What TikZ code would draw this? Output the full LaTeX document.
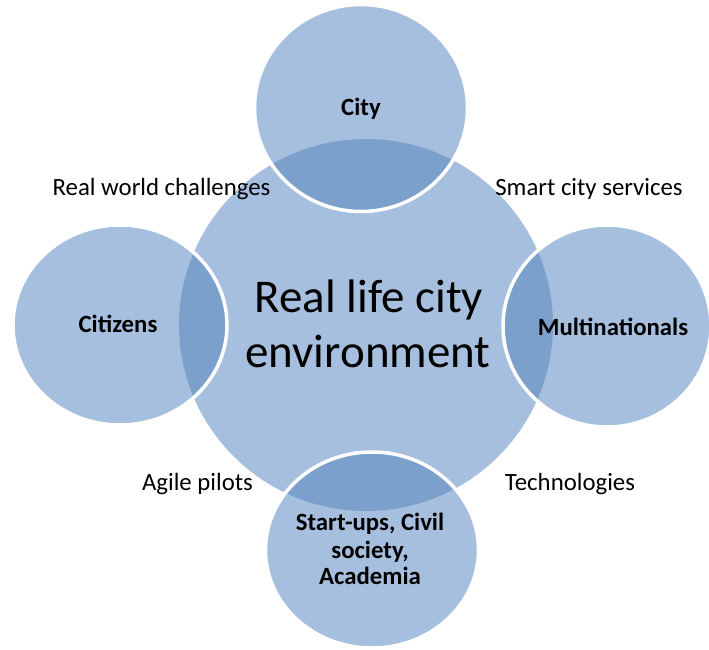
\documentclass[tikz,border=0pt]{standalone}
\usepackage{fontspec}
\setmainfont{Carlito}
\definecolor{lightfill}{RGB}{167,191,222}
\definecolor{darkfill}{RGB}{123,160,204}
\begin{document}
\begin{tikzpicture}[x=1pt,y=-1pt,
  lbl/.style={font=\fontsize{24.8}{29}\selectfont, text=black, inner sep=0pt, anchor=base},
  blbl/.style={font=\bfseries\fontsize{24.8}{28}\selectfont, text=black, inner sep=0pt, anchor=base},
  biglbl/.style={font=\fontsize{47}{55}\selectfont, text=black, inner sep=0pt, anchor=base},
  satborder/.style={draw=white, line width=3.5pt}]
\useasboundingbox (0,0) rectangle (709,649);
\clip (0,0) rectangle (709,649);
\def\centralpath{(366,325) circle[x radius=187pt, y radius=186pt]}
% central circle
\fill[lightfill] \centralpath;
% satellites
\foreach \cx/\cy/\rx/\ry in {361/108/106.5/103.5, 120/325/107/100, 607/326/104/101, 372/550/106.5/98}{
  \fill[lightfill] (\cx,\cy) circle[x radius=\rx pt, y radius=\ry pt];
  \begin{scope}
    \clip (\cx,\cy) circle[x radius=\rx pt, y radius=\ry pt];
    \fill[darkfill] \centralpath;
  \end{scope}
  \draw[satborder] (\cx,\cy) circle[x radius=\rx pt, y radius=\ry pt];
}
% labels
\node[biglbl] (c1) at (369,312) {Real life city};
\node[biglbl] (c2) at (368,367) {environment};
\node[blbl] (city) at (361,115) {City};
\node[blbl] (citizens) at (118,332) {Citizens};
\node[blbl] (multi) at (613,335) {Multinationals};
\node[blbl] (s1) at (370,530) {Start-ups, Civil};
\node[blbl] (s2) at (370,558) {society,};
\node[blbl] (s3) at (370,584) {Academia};
\node[lbl] (rwc) at (161.5,195.5) {Real world challenges};
\node[lbl] (scs) at (589,195.5) {Smart city services};
\node[lbl] (ap) at (197.5,490) {Agile pilots};
\node[lbl] (tech) at (570,490) {Technologies};
\end{tikzpicture}
\end{document}
